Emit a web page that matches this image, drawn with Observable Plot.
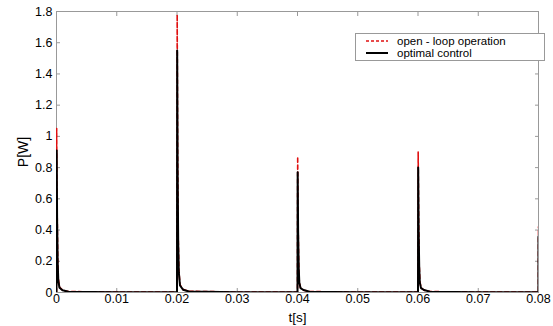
<!DOCTYPE html>
<html>
<head>
<meta charset="utf-8">
<script src="https://cdn.jsdelivr.net/npm/d3@7"></script>
<script src="https://cdn.jsdelivr.net/npm/@observablehq/plot@0.6"></script>
<style>
  body { margin: 0; background: #fff; }
  #wrap { position: relative; width: 553px; height: 326px; font-family: "Liberation Sans", Arial, sans-serif; }
  #legend { position: absolute; left: 355px; top: 33px; width: 188px; height: 26px; border: 1px solid #999; background: #fff; font-size: 11.5px; line-height: 12px; color: #000; }
  .row { position: absolute; left: 0; height: 12px; line-height: 12px; display: flex; align-items: center; white-space: nowrap; }
  .row svg { margin-left: 10px; margin-right: 9px; }
</style>
</head>
<body>
<div id="wrap"></div>
<script>
const time = [
  0, 0.00003, 0.0001, 0.0002, 0.0003, 0.0005, 0.001, 0.002, 0.01,
  0.02, 0.02003, 0.0201, 0.0202, 0.0203, 0.0205, 0.021, 0.022, 0.03,
  0.04, 0.04003, 0.0401, 0.0402, 0.0403, 0.0405, 0.041, 0.042, 0.05,
  0.06, 0.06003, 0.0601, 0.0602, 0.0603, 0.0605, 0.061, 0.062, 0.07,
  0.07999, 0.08
];
const openLoop = [
  0, 1.05, 0.55, 0.22, 0.09, 0.035, 0.015, 0.006, 0.003,
  0.003, 1.78, 0.92, 0.37, 0.15, 0.05, 0.02, 0.008, 0.003,
  0.003, 0.87, 0.45, 0.18, 0.07, 0.03, 0.015, 0.006, 0.003,
  0.003, 0.90, 0.47, 0.19, 0.075, 0.03, 0.015, 0.006, 0.003,
  0.003, 0.42
];
const optimal = [
  0, 0.91, 0.47, 0.19, 0.075, 0.03, 0.014, 0.005, 0.002,
  0.002, 1.55, 0.80, 0.32, 0.13, 0.045, 0.018, 0.006, 0.002,
  0.002, 0.77, 0.40, 0.16, 0.065, 0.028, 0.016, 0.005, 0.002,
  0.002, 0.80, 0.41, 0.17, 0.065, 0.028, 0.016, 0.005, 0.002,
  0.002, 0.36
];
const xTicks = [0, 0.01, 0.02, 0.03, 0.04, 0.05, 0.06, 0.07, 0.08];
const yTicks = [0, 0.2, 0.4, 0.6, 0.8, 1, 1.2, 1.4, 1.6, 1.8];
const seriesNames = ["open - loop operation", "optimal control"];

const openData = time.map((t, i) => ({t, p: openLoop[i]}));
const optData = time.map((t, i) => ({t, p: optimal[i]}));

const chart = Plot.plot({
  width: 553,
  height: 326,
  marginLeft: 56,
  marginRight: 15,
  marginTop: 11,
  marginBottom: 34,
  style: {fontFamily: "'Liberation Sans', Arial, sans-serif", fontSize: "12.5px", color: "#000", background: "#fff"},
  x: {domain: [0, 0.08]},
  y: {domain: [0, 1.8]},
  marks: [
    Plot.frame({stroke: "#999"}),
    Plot.axisX({ticks: xTicks, tickSize: -4, tickPadding: 6, stroke: "#999", tickFormat: d => d === 0 ? "0" : d3.format(".2f")(d), label: null, fontSize: 12.5}),
    Plot.axisX({ticks: [0.04], tickSize: 0, tickPadding: 0, tickFormat: () => "t[s]", fontSize: 13.5, dy: 20, label: null}),
    Plot.axisX({ticks: xTicks, anchor: "top", tickSize: -4, stroke: "#999", tickFormat: () => "", label: null}),
    Plot.axisY({ticks: yTicks, tickSize: -4, tickPadding: 8, stroke: "#999", tickFormat: d => d === 0 ? "0" : d3.format(".1~f")(d), label: "P[W]", labelAnchor: "center", labelArrow: "none", labelOffset: 38, fontSize: 12.5}),
    Plot.axisY({ticks: yTicks, anchor: "right", tickSize: -4, stroke: "#999", tickFormat: () => "", label: null}),
    Plot.line(openData, {x: "t", y: "p", stroke: "#e01010", strokeWidth: 1.6, strokeDasharray: "4,3", clip: true}),
    Plot.line(optData, {x: "t", y: "p", stroke: "#000", strokeWidth: 2, clip: true})
  ]
});
chart.querySelectorAll("g[aria-label='y-axis label'] text").forEach(t => t.style.fontSize = "14px");
const wrap = document.getElementById("wrap");
wrap.appendChild(chart);

const legend = document.createElement("div");
legend.id = "legend";
legend.innerHTML = `
  <div class="row" style="top:1px"><svg width="22" height="4"><line x1="0" x2="22" y1="2" y2="2" stroke="#e01010" stroke-width="1.5" stroke-dasharray="3,2"/></svg>${seriesNames[0]}</div>
  <div class="row" style="top:13px"><svg width="22" height="4"><line x1="0" x2="22" y1="2" y2="2" stroke="#000" stroke-width="2"/></svg>${seriesNames[1]}</div>`;
wrap.appendChild(legend);
</script>
</body>
</html>
